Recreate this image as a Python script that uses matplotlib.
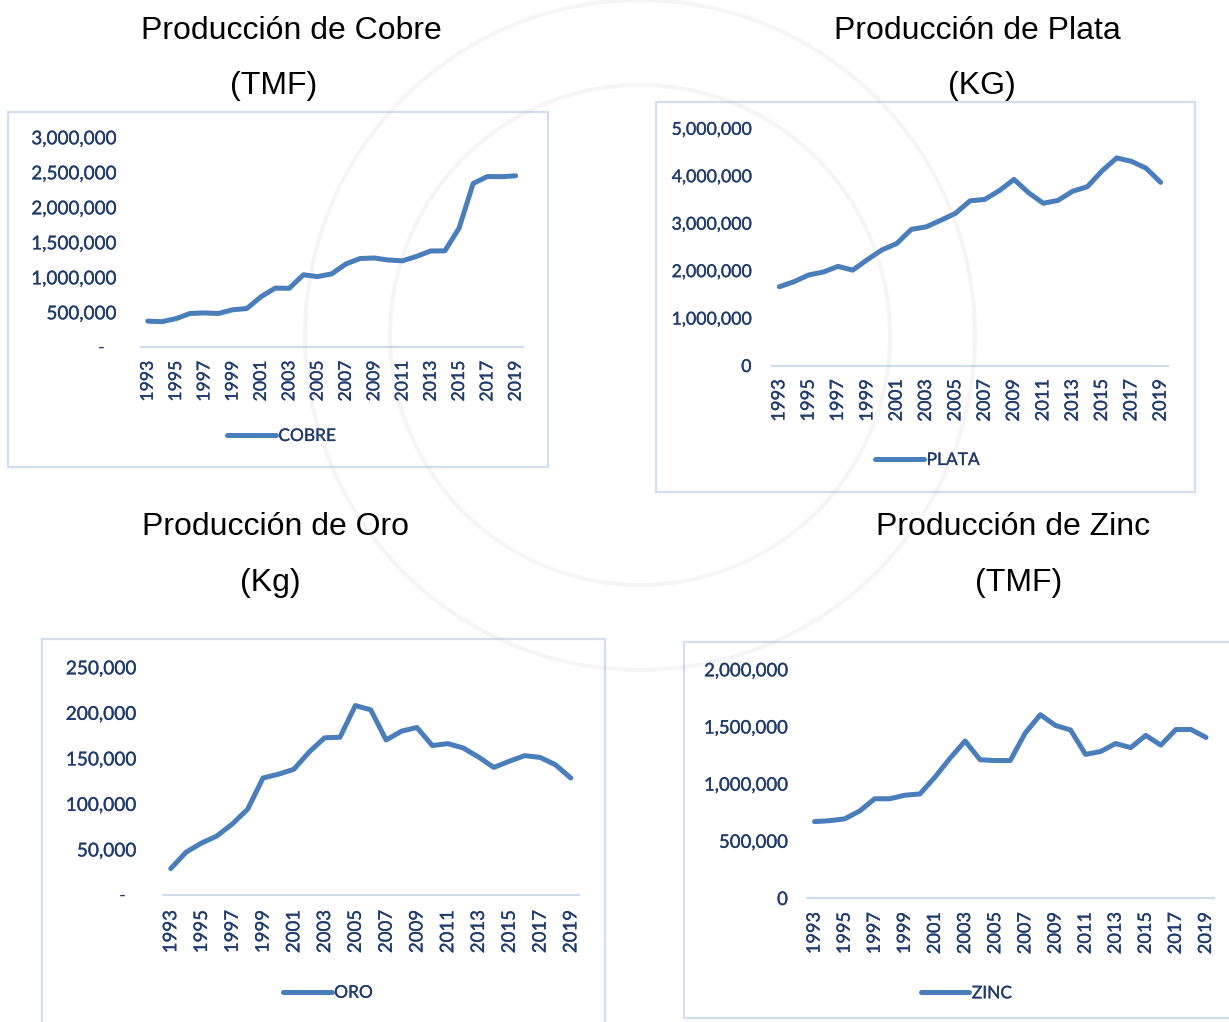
import matplotlib
matplotlib.use("Agg")
import matplotlib.pyplot as plt
import matplotlib.patheffects as pe
from matplotlib.patches import Rectangle, Circle
from matplotlib.ticker import FixedLocator, FuncFormatter

# datos - produccion minera Peru 1993-2019
years = list(range(1993, 2020))
cobre = [374000, 366000, 410000, 484000, 491000, 483000, 536000, 554000, 722000,
         845000, 843000, 1036000, 1010000, 1049000, 1190000, 1268000, 1276000,
         1247000, 1235000, 1299000, 1376000, 1378000, 1701000, 2340000, 2440000,
         2437000, 2450000]
plata = [1660000, 1767000, 1908000, 1970000, 2090000, 2010000, 2231000, 2438000,
         2570000, 2870000, 2921000, 3060000, 3206000, 3471000, 3501000, 3686000,
         3923000, 3640000, 3419000, 3481000, 3674000, 3768000, 4102000, 4375000,
         4304000, 4160000, 3860000]
oro = [29000, 47000, 57000, 64800, 77900, 94200, 128500, 132600, 138000, 157000,
       172600, 173200, 208000, 203300, 170200, 179900, 183900, 164100, 166200,
       161500, 151500, 140100, 146800, 153000, 151100, 143000, 128400]
zinc = [668000, 676000, 692000, 761000, 868000, 868000, 899000, 910000, 1057000,
        1222000, 1373000, 1209000, 1202000, 1202000, 1444000, 1603000, 1509000,
        1470000, 1256000, 1281000, 1351000, 1315000, 1422000, 1337000, 1473000,
        1474000, 1404000]

W, H = 1229, 1022
fig = plt.figure(figsize=(W / 100, H / 100), dpi=100)
fig.patch.set_facecolor("white")

LINE = "#4a7ebb"
NAVY = "#1f3b6e"
EDGE = "#d3dff1"
AXLINE = "#cfdcee"
bold = [pe.withStroke(linewidth=0.2, foreground=NAVY)]

def fx(x):
    return x / W

def fy(y):
    return 1 - y / H

# layout in pixels (from the reference)
panels = [
    dict(data=cobre, name="COBRE", title="Producción de Cobre", unit="(TMF)",
         t1=(291, 31), t2=(274, 86), box=(8, 112, 548, 467),
         ax=(140.7, 137.3, 522.7, 347.3), ymax=3000000, step=500000,
         dash=True, dashoff=35.7, ypad=17.3, yfs=13.6, xfs=12.7, xpad=9.6,
         leg=(281.7, 436)),
    dict(data=plata, name="PLATA", title="Producción de Plata", unit="(KG)",
         t1=(977, 31), t2=(982, 86), box=(656, 101.7, 1195, 491.7),
         ax=(772.0, 128.3, 1168.0, 365.5), ymax=5000000, step=1000000,
         dash=False, dashoff=0, ypad=14.8, yfs=12.8, xfs=13.2, xpad=9.7,
         leg=(927.5, 460)),
    dict(data=oro, name="ORO", title="Producción de Oro", unit="(Kg)",
         t1=(276, 527), t2=(270, 583), box=(41.7, 639.3, 605, 1040),
         ax=(163.0, 667.3, 578.5, 895.0), ymax=250000, step=50000,
         dash=True, dashoff=37.5, ypad=19.0, yfs=13.7, xfs=13.4, xpad=10.8,
         leg=(328, 992.7)),
    dict(data=zinc, name="ZINC", title="Producción de Zinc", unit="(TMF)",
         t1=(1013, 527), t2=(1019, 583), box=(684, 642.3, 1250, 1018),
         ax=(807.0, 669.3, 1213.5, 898.0), ymax=2000000, step=500000,
         dash=False, dashoff=0, ypad=13.8, yfs=13.4, xfs=13.1, xpad=10.2,
         leg=(966.5, 993.3)),
]

x = list(range(len(years)))

for p in panels:
    # chart box
    bx0, by0, bx1, by1 = p["box"]
    fig.patches.append(Rectangle((fx(bx0), fy(by1)), fx(bx1 - bx0), (by1 - by0) / H,
                                 transform=fig.transFigure, facecolor="white",
                                 edgecolor=EDGE, lw=1.6, zorder=-5))
    # titles
    fig.text(fx(p["t1"][0]), fy(p["t1"][1]), p["title"], ha="center", va="center",
             fontsize=23, family="Liberation Sans", color="black")
    fig.text(fx(p["t2"][0]), fy(p["t2"][1]), p["unit"], ha="center", va="center",
             fontsize=23, family="Liberation Sans", color="black")

    l, t, r, b = p["ax"]
    ax = fig.add_axes([fx(l), fy(b), (r - l) / W, (b - t) / H])
    ax.set_facecolor("none")
    ax.plot(x, p["data"], color=LINE, lw=3.6, solid_joinstyle="round",
            solid_capstyle="round", label=p["name"])
    ax.set_xlim(-0.5, len(years) - 0.5)
    ax.set_ylim(0, p["ymax"])

    for s in ["top", "right", "left"]:
        ax.spines[s].set_visible(False)
    ax.spines["bottom"].set_color(AXLINE)
    ax.spines["bottom"].set_linewidth(1.5)

    ax.xaxis.set_major_locator(FixedLocator(x[::2]))
    ax.set_xticklabels([str(yr) for yr in years[::2]], rotation=90,
                       fontsize=p["xfs"], family="Lato", color=NAVY)
    ax.tick_params(axis="x", length=0, pad=p["xpad"])

    yt = list(range(0, p["ymax"] + 1, p["step"]))
    ax.yaxis.set_major_locator(FixedLocator(yt))
    dash = p["dash"]
    ax.yaxis.set_major_formatter(FuncFormatter(
        lambda v, pos, dash=dash: ("" if dash else "0") if v == 0 else f"{v:,.0f}"))
    ax.tick_params(axis="y", length=0, pad=p["ypad"], labelsize=p["yfs"],
                   labelcolor=NAVY)
    for lab in ax.get_yticklabels() + ax.get_xticklabels():
        lab.set_family("Lato")
        lab.set_path_effects(bold)
    if dash:
        ax.annotate("-", xy=(0, 0), xycoords=("axes fraction", "data"),
                    xytext=(-p["dashoff"] * 0.72, 0), textcoords="offset points",
                    ha="right", va="center", fontsize=p["yfs"], family="Lato",
                    color=NAVY)

    leg = ax.legend(loc="center", bbox_to_anchor=(fx(p["leg"][0]), fy(p["leg"][1])),
                    bbox_transform=fig.transFigure, frameon=False,
                    handlelength=2.8, handletextpad=0.15, borderpad=0,
                    prop={"family": "Lato", "size": 12.5}, labelcolor=NAVY)
    for txt in leg.get_texts():
        txt.set_path_effects(bold)

# marca de agua tenue (sello), en pulgadas para que sea circular
for rad in (2.5, 3.35):
    fig.patches.append(Circle((6.40, (H - 335) / 100), rad,
                              transform=fig.dpi_scale_trans, fill=False,
                              edgecolor="#9a9a9a", lw=3, alpha=0.09, zorder=10))

fig.savefig("out.png", dpi=100)
